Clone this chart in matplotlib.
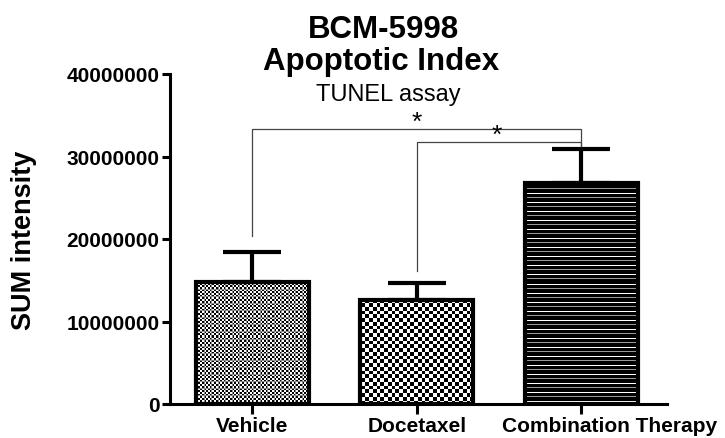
import matplotlib
matplotlib.use("Agg")
import matplotlib.pyplot as plt
import matplotlib.transforms as mtransforms
import numpy as np

plt.rcParams["font.family"] = ["Liberation Sans", "DejaVu Sans"]

groups = ["Vehicle", "Docetaxel", "Combination Therapy"]
means = [14.8e6, 12.6e6, 26.8e6]
sems = [3.6e6, 2.05e6, 4.1e6]
yticks = [0, 10000000, 20000000, 30000000, 40000000]

# significance brackets: (left group, right group, bar height, left drop, right drop, star x)
brackets = [
    (0, 2, 33.3e6, 20.4e6, 31.3e6, 1.0),
    (1, 2, 31.8e6, 16.1e6, 31.3e6, 1.485),
]


def texture(kind, h, w):
    i, j = np.mgrid[0:h, 0:w]
    if kind == "fine":
        t = ((i // 2 + j // 2) % 2).astype(float)
        t[(i % 7 == 6) | (j % 7 == 6)] = 0.55
    elif kind == "coarse":
        t = ((np.floor(i / 3.75) + np.floor(j / 3.75)) % 2).astype(float)
    else:
        t = np.zeros((h, w))
        t[i % 9 == 3] = 1.0
        t[i % 9 == 7] = 0.6
    return t


fig = plt.figure(figsize=(7.25, 4.39), dpi=100)
ax = fig.add_axes([170 / 725, 1 - 405 / 439, 497 / 725, 330 / 439])

x = np.arange(len(groups))
xlim = (-0.5, 2.52)
ylim = (0, 40000000)

bars = ax.bar(x, means, width=0.685, facecolor="none", edgecolor="black",
              linewidth=3, zorder=3)
for bar, kind in zip(bars, ["fine", "coarse", "lines"]):
    im = ax.imshow(texture(kind, 330, 497), extent=(xlim[0], xlim[1], ylim[0], ylim[1]),
                   aspect="auto", interpolation="nearest", cmap="gray",
                   vmin=0, vmax=1, zorder=2)
    im.set_clip_path(bar)

ax.errorbar(x, means, yerr=[np.zeros(len(sems)), sems], fmt="none", ecolor="black",
            elinewidth=3, capsize=21, capthick=3, zorder=4)

for g0, g1, yb, d0, d1, sx in brackets:
    ax.plot([x[g0], x[g0], x[g1], x[g1]], [d0, yb, yb, d1], color="#444444",
            lw=0.9, zorder=5, clip_on=False)
    ax.text(sx, yb - 0.6e6, "*", ha="center", va="bottom", fontsize=19, zorder=5)

ax.set_xlim(*xlim)
ax.set_ylim(*ylim)
ax.set_yticks(yticks)
ax.set_yticklabels([str(v) for v in yticks], fontsize=15, fontweight="bold")
ax.set_xticks(x)
ax.set_xticklabels(groups, fontsize=15, fontweight="bold")
ax.tick_params(axis="y", length=6, width=2.2, pad=1.5)
ax.tick_params(axis="x", length=7, width=2.2, pad=2)
for side in ["top", "right"]:
    ax.spines[side].set_visible(False)
for side in ["left", "bottom"]:
    ax.spines[side].set_linewidth(2.2)

# the last group label sits a little right of its tick in the original
last = ax.get_xticklabels()[-1]
last.set_transform(last.get_transform() + mtransforms.ScaledTranslation(0.28, 0, fig.dpi_scale_trans))

ax.set_ylabel("SUM intensity", fontsize=19.5, fontweight="bold")
ax.yaxis.set_label_coords(-0.268, 0.5)

fig.text(384 / 725, 1 - 38 / 439, "BCM-5998", ha="center", va="baseline",
         fontsize=22.5, fontweight="bold")
fig.text(381 / 725, 1 - 70 / 439, "Apoptotic Index", ha="center", va="baseline",
         fontsize=22.5, fontweight="bold")
fig.text(388 / 725, 1 - 101 / 439, "TUNEL assay", ha="center", va="baseline",
         fontsize=17)

fig.savefig("out.png", dpi=100)
